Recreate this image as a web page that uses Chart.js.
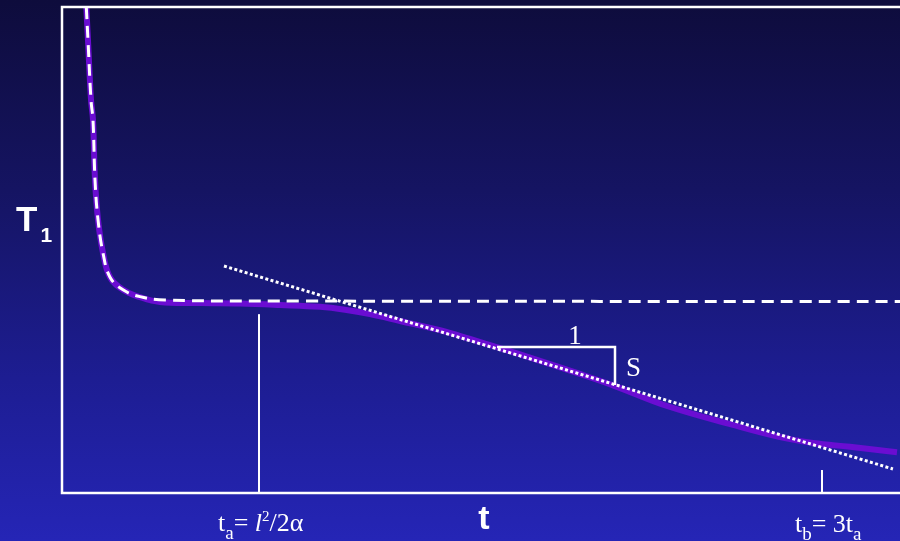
<!DOCTYPE html>
<html>
<head>
<meta charset="utf-8">
<script src="https://cdn.jsdelivr.net/npm/chart.js@4"></script>
<style>
  html, body { margin: 0; padding: 0; width: 900px; height: 541px; overflow: hidden; }
  body { background: linear-gradient(to bottom, #0e0c3c 0%, #151462 35%, #1d1d92 70%, #2525b6 100%); }
  #c { display: block; }
</style>
</head>
<body>
<canvas id="c" width="900" height="541"></canvas>
<script>
// Temperature response T1 versus time t (schematic units, 0..100 on both axes)
const curveT  = [2.9, 3.1, 3.46, 3.7, 3.94, 4.3, 4.89, 5.73, 7.28, 9.31, 11.69, 16.47, 21.24, 26.01, 30.79, 33.77, 36.75, 40.33, 45.11, 48.69, 52.27, 57.04, 61.81, 65.99, 72.2, 80.07, 85.68, 89.62, 94.03, 99.64];
const curveT1 = [100, 93.2, 80.9, 76.7, 64.4, 56.2, 49.4, 44.4, 41.8, 40.3, 39.3, 39.1, 39.0, 38.7, 38.3, 37.7, 36.8, 35.4, 33.5, 31.7, 29.8, 27.2, 24.5, 22.0, 17.9, 14.0, 11.5, 10.3, 9.5, 8.4];

// Early-time response that levels off to a plateau
const plateauT  = [2.9, 3.1, 3.46, 3.7, 3.94, 4.3, 4.89, 5.73, 7.28, 9.31, 12.3, 28.4, 100];
const plateauT1 = [100, 93.2, 80.9, 76.7, 64.4, 56.2, 49.4, 44.4, 41.8, 40.4, 39.7, 39.5, 39.4];

// Late-time straight-line asymptote
const asymT  = [19.33, 99.16];
const asymT1 = [46.7, 4.94];

// Slope triangle: run of 1, rise of S
const slopeT  = [51.91, 65.99, 65.99];
const slopeT1 = [30.04, 30.04, 22.22];

// Marker times t_a and t_b = 3 t_a
const ta = 23.51, taTop = 36.8;
const tb = 90.69, tbTop = 4.73;

const pts = (xs, ys) => xs.map((x, i) => ({ x: x, y: ys[i] }));

const frameAndText = {
  id: 'frameAndText',
  afterDatasetsDraw(chart) {
    const { ctx, chartArea: a, scales: { x, y } } = chart;
    ctx.save();
    // frame: top, left and bottom edges
    ctx.strokeStyle = '#ffffff';
    ctx.lineWidth = 2.5;
    ctx.beginPath();
    ctx.moveTo(a.right, a.top);
    ctx.lineTo(a.left, a.top);
    ctx.lineTo(a.left, a.bottom);
    ctx.lineTo(a.right, a.bottom);
    ctx.stroke();

    ctx.fillStyle = '#ffffff';
    ctx.textBaseline = 'alphabetic';
    const runs = (x0, yb, list) => {
      let cx = x0;
      list.forEach(r => {
        ctx.font = r.f;
        ctx.fillText(r.t, cx, yb + (r.dy || 0));
        cx += ctx.measureText(r.t).width + (r.gap || 0);
      });
    };
    const serif = '"Liberation Serif", "Times New Roman", serif';
    const sans = '"Liberation Sans", Arial, sans-serif';

    // axis titles
    ctx.textAlign = 'left';
    runs(16, 231, [
      { t: 'T', f: 'bold 35px ' + sans, gap: 3 },
      { t: '1', f: 'bold 21px ' + sans, dy: 11 }
    ]);
    ctx.font = 'bold 34px ' + sans;
    ctx.textAlign = 'center';
    ctx.fillText('t', (a.left + a.right) / 2 + 3, 529);

    // marker labels
    ctx.textAlign = 'left';
    runs(x.getPixelForValue(ta) - 41, 531, [
      { t: 't', f: '26px ' + serif },
      { t: 'a', f: '19px ' + serif, dy: 8 },
      { t: '= ', f: '26px ' + serif },
      { t: 'l', f: 'italic 26px ' + serif },
      { t: '2', f: '15px ' + serif, dy: -10 },
      { t: '/2α', f: '26px ' + serif }
    ]);
    runs(x.getPixelForValue(tb) - 27, 532, [
      { t: 't', f: '26px ' + serif },
      { t: 'b', f: '19px ' + serif, dy: 8 },
      { t: '= 3t', f: '26px ' + serif },
      { t: 'a', f: '19px ' + serif, dy: 8 }
    ]);

    // slope triangle labels
    ctx.font = '27px ' + serif;
    ctx.textAlign = 'center';
    ctx.fillText('1', x.getPixelForValue(slopeT[0]) + 78, y.getPixelForValue(slopeT1[0]) - 3);
    ctx.textAlign = 'left';
    ctx.fillText('S', x.getPixelForValue(slopeT[1]) + 11, y.getPixelForValue((slopeT1[1] + slopeT1[2]) / 2) + 10);
    ctx.restore();
  }
};

new Chart(document.getElementById('c'), {
  type: 'line',
  data: {
    datasets: [
      { data: pts(curveT, curveT1), borderColor: '#6a0dd2', borderWidth: 6, tension: 0.4, order: 5 },
      { data: pts(plateauT, plateauT1), borderColor: '#ffffff', borderWidth: 3, borderDash: [12, 7], tension: 0.4, order: 4 },
      { data: pts(asymT, asymT1), borderColor: '#ffffff', borderWidth: 3, borderDash: [3, 2.4], order: 3 },
      { data: pts(slopeT, slopeT1), borderColor: '#ffffff', borderWidth: 2.5, tension: 0, order: 2 },
      { data: [{ x: ta, y: 0 }, { x: ta, y: taTop }], borderColor: '#ffffff', borderWidth: 2, order: 1 },
      { data: [{ x: tb, y: 0 }, { x: tb, y: tbTop }], borderColor: '#ffffff', borderWidth: 2, order: 1 }
    ]
  },
  options: {
    responsive: false,
    animation: false,
    events: [],
    layout: { padding: { left: 62, top: 7, right: 0, bottom: 48 } },
    elements: { point: { radius: 0 }, line: { fill: false, borderCapStyle: 'butt' } },
    plugins: { legend: { display: false }, tooltip: { enabled: false } },
    scales: {
      x: { type: 'linear', min: 0, max: 100, display: false },
      y: { type: 'linear', min: 0, max: 100, display: false }
    }
  },
  plugins: [frameAndText]
});
</script>
</body>
</html>
